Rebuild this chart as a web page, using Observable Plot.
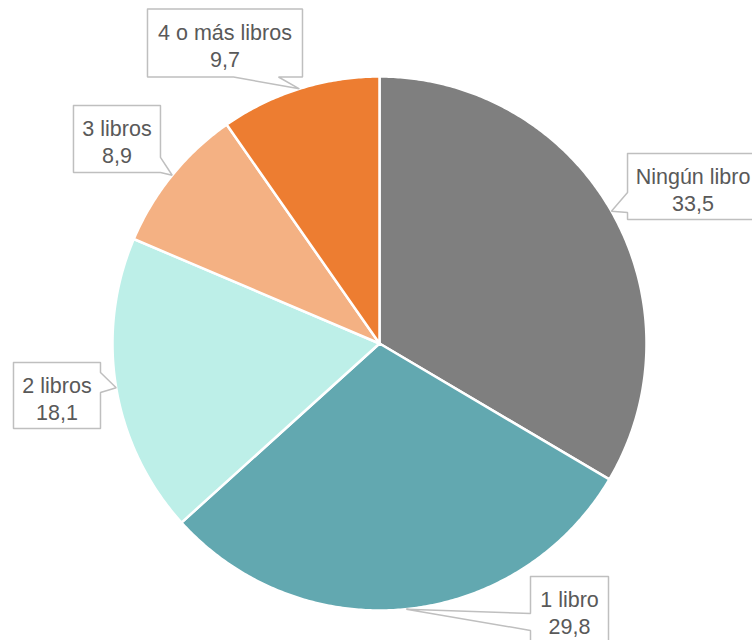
<!DOCTYPE html>
<html>
<head>
<meta charset="utf-8">
<script src="https://cdn.jsdelivr.net/npm/d3@7"></script>
<script src="https://cdn.jsdelivr.net/npm/@observablehq/plot@0.6"></script>
<style>
  html, body { margin: 0; padding: 0; background: #ffffff; }
  #chart svg { display: block; }
</style>
</head>
<body>
<div id="chart"></div>
<script>
// ---- Data ----
const categories = ["Ningún libro", "1 libro", "2 libros", "3 libros", "4 o más libros"];
const values = [33.5, 29.8, 18.1, 8.9, 9.7];
const colors = ["#7f7f7f", "#62a8b0", "#bdefe8", "#f4b183", "#ed7d31"];

// ---- Layout (pixels) ----
const W = 752, H = 640;
const CX = 379, CY = 343, R = 267;
// callout box: offset of box centre from slice tip, size, pointer side and base span
const calloutLayout = [
  {dx: 81.6,  dy: -24.7, w: 131, h: 66, side: "left",   a: 39, b: 59},
  {dx: 163.2, dy: 0.3,   w: 78,  h: 66, side: "left",   a: 37, b: 54},
  {dx: -59.2, dy: 7.8,   w: 87,  h: 66, side: "right",  a: 10, b: 30},
  {dx: -55.2, dy: -36.3, w: 87,  h: 67, side: "right",  a: 52, b: 67},
  {dx: -74.4, dy: -45.8, w: 155, h: 68, side: "bottom", a: 86, b: 131}
];

const fmt = v => v.toFixed(1).replace(".", ",");
const total = d3.sum(values);
const starts = d3.cumsum([0, ...values]);

// slice polygons
const slices = categories.map((cat, i) => {
  const a0 = starts[i] / total * 2 * Math.PI;
  const a1 = starts[i + 1] / total * 2 * Math.PI;
  const n = Math.max(2, Math.ceil((a1 - a0) / (Math.PI / 360)));
  const pts = [{x: CX, y: CY, cat}];
  for (let k = 0; k <= n; k++) {
    const t = a0 + (a1 - a0) * k / n;
    pts.push({x: CX + R * Math.sin(t), y: CY - R * Math.cos(t), cat});
  }
  pts.push({x: CX, y: CY, cat});
  return pts;
});

// callouts
const calloutPts = [];
const labelData = [];
categories.forEach((cat, i) => {
  const mid = (starts[i] + values[i] / 2) / total * 2 * Math.PI;
  const tip = [CX + R * Math.sin(mid), CY - R * Math.cos(mid)];
  const L = calloutLayout[i];
  const cx = tip[0] + L.dx, cy = tip[1] + L.dy;
  const x0 = cx - L.w / 2, x1 = cx + L.w / 2, y0 = cy - L.h / 2, y1 = cy + L.h / 2;
  const p = [[x0, y0]];
  if (L.side === "top") p.push([x0 + L.a, y0], tip, [x0 + L.b, y0]);
  p.push([x1, y0]);
  if (L.side === "right") p.push([x1, y0 + L.a], tip, [x1, y0 + L.b]);
  p.push([x1, y1]);
  if (L.side === "bottom") p.push([x0 + L.b, y1], tip, [x0 + L.a, y1]);
  p.push([x0, y1]);
  if (L.side === "left") p.push([x0, y0 + L.b], tip, [x0, y0 + L.a]);
  p.push([x0, y0]);
  p.forEach(([x, y]) => calloutPts.push({x, y, cat}));
  labelData.push({x: cx, y: cy + 2, text: cat + "\n" + fmt(values[i])});
});

const chart = Plot.plot({
  width: W,
  height: H,
  margin: 0,
  x: {domain: [0, W], range: [0, W], axis: null},
  y: {domain: [0, H], range: [0, H], axis: null},
  style: {background: "#ffffff"},
  marks: [
    ...slices.map((pts, i) => Plot.line(pts, {
      x: "x", y: "y", fill: colors[i], stroke: "#ffffff",
      strokeWidth: 2.5, strokeLinejoin: "round", curve: "linear"
    })),
    Plot.line(calloutPts, {
      x: "x", y: "y", z: "cat", fill: "#ffffff",
      stroke: "#bfbfbf", strokeWidth: 1.5, strokeLinejoin: "miter", curve: "linear"
    }),
    Plot.text(labelData, {
      x: "x", y: "y", text: "text",
      fontSize: 21.5, lineHeight: 1.27, fill: "#595959",
      fontFamily: "Liberation Sans, Arial, sans-serif",
      textAnchor: "middle"
    })
  ]
});
document.getElementById("chart").appendChild(chart);
</script>
</body>
</html>
